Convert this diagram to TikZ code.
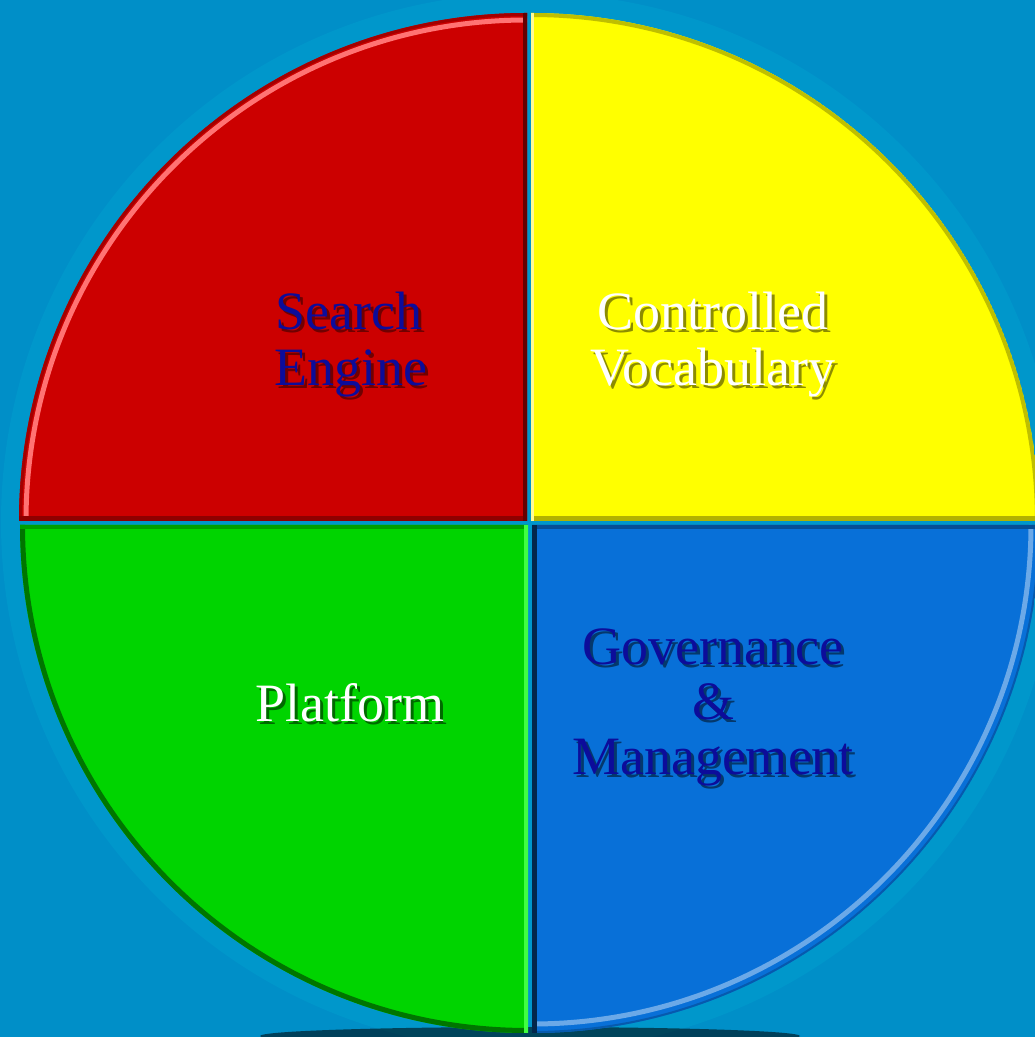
\documentclass[tikz,border=0pt]{standalone}
\usepackage{fontspec}
\setmainfont{Liberation Serif}
\definecolor{bgc}{HTML}{008FC8}
\definecolor{haloc}{HTML}{0097CB}
\definecolor{redq}{HTML}{CC0000}
\definecolor{yelq}{HTML}{FFFF00}
\definecolor{grnq}{HTML}{00D400}
\definecolor{bluq}{HTML}{0870D8}
\definecolor{txtblue}{HTML}{0C0C9A}
\newcommand{\shtxt}[3]{\makebox[0pt][l]{\kern3pt\raisebox{-3pt}[0pt][0pt]{\color{#1}#3}}{\color{#2}#3}}
\begin{document}
\begin{tikzpicture}[x=1pt,y=1pt,
  lbltext/.style={anchor=base,inner sep=0pt,font=\fontsize{54}{56}\selectfont},
  edge/.style={line width=9pt}]
\useasboundingbox (0,0) rectangle (1035,1037);
\clip (0,0) rectangle (1035,1037);
\fill[bgc] (0,0) rectangle (1035,1037);
\coordinate (cr) at (527,516);
\coordinate (cy) at (531,516);
\coordinate (cg) at (528,512);
\coordinate (cb) at (532,512);
\coordinate (ch) at (530,515);
\fill[haloc] (ch) circle[radius=529];
% bottom shadow
\fill[black,opacity=0.55] (530,1) ellipse[x radius=270,y radius=9];
% red
\begin{scope}
\clip (cr) -- +(-508,0) arc[start angle=180,end angle=90,radius=508] -- cycle;
\fill[redq] (cr) -- +(-508,0) arc[start angle=180,end angle=90,radius=508] -- cycle;
\draw[line width=5pt,red!55!white] (cr) ++(-501,0) arc[start angle=180,end angle=90,radius=501];
\draw[line width=6pt,redq!80!black] (cr) ++(-508,0) arc[start angle=180,end angle=90,radius=508];
\draw[edge,redq!70!black] (cr) -- +(-508,0);
\draw[edge,red!40!black] (cr) -- +(0,508);
\end{scope}
% yellow
\begin{scope}
\clip (cy) -- +(0,508) arc[start angle=90,end angle=0,radius=508] -- cycle;
\fill[yelq] (cy) -- +(0,508) arc[start angle=90,end angle=0,radius=508] -- cycle;
\draw[line width=8pt,yelq!75!black] (cy) ++(0,508) arc[start angle=90,end angle=0,radius=508];
\draw[edge,yelq!70!black] (cy) -- +(508,0);
\draw[line width=5pt,yellow!40!white] (cy) -- +(0,508);
\end{scope}
% green
\begin{scope}
\clip (cg) -- +(0,-508) arc[start angle=270,end angle=180,radius=508] -- cycle;
\fill[grnq] (cg) -- +(0,-508) arc[start angle=270,end angle=180,radius=508] -- cycle;
\draw[line width=10pt,grnq!55!black] (cg) ++(0,-508) arc[start angle=270,end angle=180,radius=508];
\draw[edge,grnq!75!black] (cg) -- +(-508,0);
\draw[edge,green!75!white] (cg) -- +(0,-508);
\end{scope}
% blue
\begin{scope}
\clip (cb) -- +(508,0) arc[start angle=0,end angle=-90,radius=508] -- cycle;
\fill[bluq] (cb) -- +(508,0) arc[start angle=0,end angle=-90,radius=508] -- cycle;
\draw[line width=5pt,bluq!60!white] (cb) ++(0,-499) arc[start angle=-90,end angle=0,radius=499];
\draw[line width=4pt,bluq!80!black] (cb) ++(0,-508) arc[start angle=-90,end angle=0,radius=508];
\draw[edge,bluq!70!black] (cb) -- +(508,0);
\draw[edge,bluq!35!black] (cb) -- +(0,-508);
\end{scope}
% labels
\node[lbltext] (se1) at (349,707) {\shtxt{redq!55!black}{txtblue}{Search}};
\node[lbltext] (se2) at (351,651) {\shtxt{redq!55!black}{txtblue}{Engine}};
\node[lbltext] (cv1) at (713,707) {\shtxt{yelq!55!black}{white}{Controlled}};
\node[lbltext] (cv2) at (713,651) {\shtxt{yelq!55!black}{white}{Vocabulary}};
\node[lbltext] (pf) at (350,315) {\shtxt{grnq!50!black}{white}{Platform}};
\node[lbltext] (gm1) at (713,372) {\shtxt{bluq!50!black}{txtblue}{Governance}};
\node[lbltext] (gm2) at (713,317) {\shtxt{bluq!50!black}{txtblue}{\&}};
\node[lbltext] (gm3) at (713,262) {\shtxt{bluq!50!black}{txtblue}{Management}};
\end{tikzpicture}
\end{document}
